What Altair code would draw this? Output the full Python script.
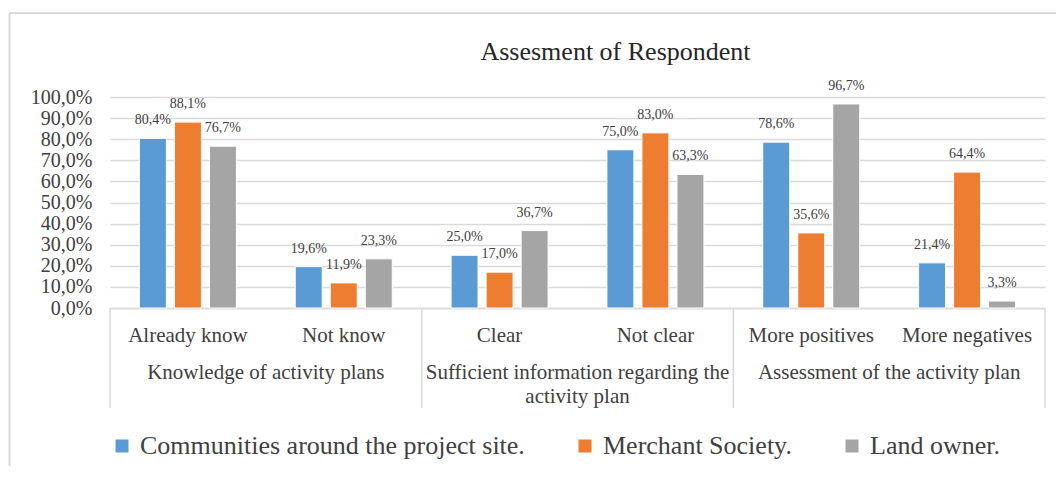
import altair as alt
import pandas as pd

title_text = "Assesment of Respondent"
categories = ["Already know", "Not know", "Clear", "Not clear", "More positives", "More negatives"]
groups = ["Knowledge of activity plans",
          "Sufficient information regarding the\nactivity plan",
          "Assessment of the activity plan"]
series = ["Communities around the project site.", "Merchant Society.", "Land owner."]
communities = [0.804, 0.196, 0.250, 0.750, 0.786, 0.214]
merchant = [0.881, 0.119, 0.170, 0.830, 0.356, 0.644]
land_owner = [0.767, 0.233, 0.367, 0.633, 0.967, 0.033]
y_ticks = [0.0, 0.1, 0.2, 0.3, 0.4, 0.5, 0.6, 0.7, 0.8, 0.9, 1.0]
colors = ["#5B9BD5", "#ED7D31", "#A5A5A5"]

rows = []
for i, cat in enumerate(categories):
    for s, vals in zip(series, [communities, merchant, land_owner]):
        v = vals[i]
        rows.append({"category": cat, "series": s, "value": v,
                     "label": f"{v * 100:.1f}%".replace(".", ",")})
df = pd.DataFrame(rows)

# group labels anchored at the start of the 2nd category band of each group (= group centre)
grp_df = pd.DataFrame({"category": [categories[1], categories[3], categories[5]], "group": groups})
sep_start = pd.DataFrame({"category": [categories[0], categories[2], categories[4]]})
sep_end = pd.DataFrame({"category": [categories[5]]})
one = pd.DataFrame({"title": [title_text]})

W, H = 935, 211
FONT = "Liberation Serif"
GRID = "#D9D9D9"
TXT = "#404040"

xscale = alt.Scale(domain=categories, paddingInner=0, paddingOuter=0)
xaxis = alt.Axis(title=None, labelFont=FONT, labelFontSize=21, labelColor=TXT,
                 labelPadding=16, ticks=False, domainColor=GRID, domainWidth=1.5,
                 labelAngle=0, grid=False, labelOverlap=False, labelLimit=0)

def X(band=0.5):
    return alt.X("category:N", sort=categories, scale=xscale, axis=xaxis, bandPosition=band)

xoff = alt.XOffset("series:N", sort=series,
                   scale=alt.Scale(domain=series, paddingInner=0.23, paddingOuter=0.84))

yaxis = alt.Axis(title=None, values=y_ticks, tickCount=11,
                 labelExpr="replace(format(datum.value, '.1%'), '.', ',')",
                 labelFont=FONT, labelFontSize=20, labelColor=TXT,
                 labelPadding=18, ticks=False, domain=False,
                 labelOverlap=False, labelLimit=0, labelFlush=False,
                 gridColor=GRID, gridWidth=1.5)
yscale = alt.Scale(domain=[0, 1], nice=False)

def Y():
    return alt.Y("value:Q", scale=yscale, axis=yaxis)

bars = alt.Chart(df).mark_bar(stroke="white", strokeWidth=1).encode(
    x=X(),
    xOffset=xoff,
    y=Y(),
    color=alt.Color("series:N", sort=series,
                    scale=alt.Scale(domain=series, range=colors),
                    legend=alt.Legend(title=None, orient="none", legendX=-1, legendY=336,
                                      direction="horizontal", symbolType="square",
                                      symbolSize=169, symbolStrokeWidth=0,
                                      labelFont=FONT, labelFontSize=26, labelColor=TXT,
                                      labelLimit=0, labelOffset=5, columnPadding=47)),
)

labels = alt.Chart(df).mark_text(font=FONT, fontSize=14, color=TXT, baseline="alphabetic",
                                 dy=-14).encode(
    x=X(),
    xOffset=xoff,
    y=Y(),
    text="label:N",
)

group_text = alt.Chart(grp_df).mark_text(font=FONT, fontSize=21, color=TXT, baseline="top",
                                         lineBreak="\n", lineHeight=24).encode(
    x=X(0),
    y=alt.value(H + 54),
    text="group:N",
)

sep1 = alt.Chart(sep_start).mark_rule(color=GRID, strokeWidth=1.5).encode(
    x=X(0), y=alt.value(H), y2=alt.value(H + 100))
sep2 = alt.Chart(sep_end).mark_rule(color=GRID, strokeWidth=1.5).encode(
    x=X(1), y=alt.value(H), y2=alt.value(H + 100))

frame_left = alt.Chart(one).mark_rule(color=GRID, strokeWidth=2).encode(
    x=alt.value(-100.5), y=alt.value(-84), y2=alt.value(420))
frame_top = alt.Chart(one).mark_rule(color=GRID, strokeWidth=2).encode(
    x=alt.value(-100.5), x2=alt.value(1000), y=alt.value(-84))

title = alt.Chart(one).mark_text(font=FONT, fontSize=26, color="#262626", baseline="alphabetic",
                                 align="center").encode(
    x=alt.value(505.5), y=alt.value(-37), text="title:N")

chart = alt.layer(frame_left, frame_top, title, bars, labels, group_text, sep1, sep2).properties(
    width=W, height=H,
    autosize=alt.AutoSizeParams(type="none"),
    padding={"left": 102, "top": 89, "right": 11, "bottom": 158},
    background="white",
).configure_view(stroke=None)

chart.save("out.html", embed_options={"renderer": "svg", "actions": False})
